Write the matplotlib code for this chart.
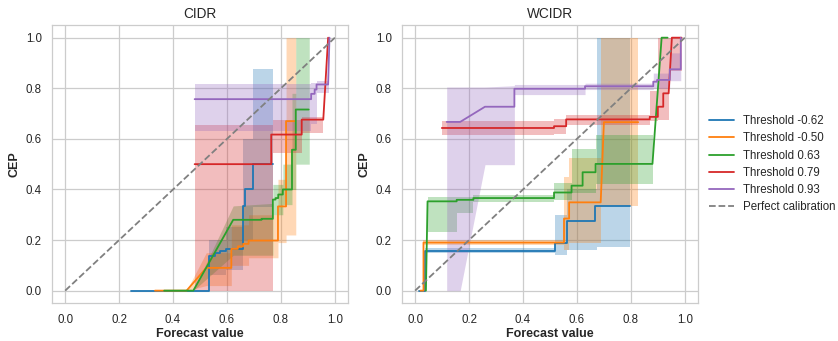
import matplotlib
matplotlib.use("Agg")
import matplotlib.pyplot as plt
import seaborn as sns

sns.set_theme(style="whitegrid")
plt.rcParams['font.family'] = ['Liberation Sans', 'DejaVu Sans']

labels = ["Threshold -0.62", "Threshold -0.50", "Threshold 0.63", "Threshold 0.79", "Threshold 0.93"]
colors = ["#1f77b4", "#ff7f0e", "#2ca02c", "#d62728", "#9467bd"]
titles = ["CIDR", "WCIDR"]
ticks = [0.0, 0.2, 0.4, 0.6, 0.8, 1.0]

# ---------------- CIDR lines ----------------
cidr_blue_x = [0.243, 0.532, 0.532, 0.555, 0.555, 0.573, 0.573, 0.598, 0.598, 0.660, 0.660, 0.667, 0.667, 0.696, 0.696, 0.772]
cidr_blue_y = [0, 0, 0.137, 0.137, 0.148, 0.148, 0.158, 0.158, 0.165, 0.165, 0.333, 0.333, 0.400, 0.400, 0.500, 0.500]
cidr_orange_x = [0.333, 0.450, 0.523, 0.616, 0.616, 0.640, 0.640, 0.660, 0.660, 0.680, 0.680, 0.789, 0.789, 0.819, 0.819, 0.852]
cidr_orange_y = [0, 0, 0.090, 0.090, 0.165, 0.165, 0.175, 0.175, 0.185, 0.185, 0.198, 0.198, 0.333, 0.333, 0.670, 0.670]
cidr_green_x = [0.367, 0.475, 0.623, 0.728, 0.728, 0.770, 0.770, 0.780, 0.780, 0.790, 0.790, 0.807, 0.807, 0.841, 0.841, 0.855, 0.855, 0.903]
cidr_green_y = [0, 0, 0.280, 0.280, 0.284, 0.284, 0.360, 0.360, 0.366, 0.366, 0.380, 0.380, 0.400, 0.400, 0.557, 0.557, 0.716, 0.716]
cidr_red_x = [0.480, 0.764, 0.764, 0.877, 0.877, 0.957, 0.975]
cidr_red_y = [0.500, 0.500, 0.617, 0.617, 0.676, 0.676, 1.0]
cidr_purple_x = [0.480, 0.912, 0.912, 0.925, 0.925, 0.932, 0.932, 0.975, 0.980]
cidr_purple_y = [0.757, 0.757, 0.778, 0.778, 0.795, 0.795, 0.815, 0.815, 1.0]

# ---------------- CIDR bands ----------------
cidr_blue_bx = [0.532, 0.598, 0.598, 0.660, 0.660, 0.696, 0.696, 0.772]
cidr_blue_lo = [0.06, 0.06, 0.08, 0.08, 0.20, 0.20, 0.33, 0.33]
cidr_blue_hi = [0.20, 0.20, 0.25, 0.25, 0.60, 0.60, 0.877, 0.877]
cidr_orange_bx = [0.450, 0.523, 0.616, 0.616, 0.680, 0.680, 0.789, 0.789, 0.819, 0.819, 0.855]
cidr_orange_lo = [0, 0.02, 0.02, 0.10, 0.10, 0.13, 0.13, 0.19, 0.19, 0.22, 0.22]
cidr_orange_hi = [0, 0.15, 0.15, 0.26, 0.26, 0.30, 0.30, 0.44, 0.44, 1.0, 1.0]
cidr_green_bx = [0.475, 0.623, 0.770, 0.770, 0.807, 0.807, 0.841, 0.841, 0.855, 0.855, 0.905]
cidr_green_lo = [0, 0.14, 0.14, 0.30, 0.30, 0.34, 0.34, 0.40, 0.40, 0.50, 0.50]
cidr_green_hi = [0, 0.335, 0.345, 0.42, 0.42, 0.50, 0.50, 0.78, 0.78, 1.0, 1.0]
cidr_red_bx = [0.480, 0.770, 0.770, 0.877, 0.877, 0.957]
cidr_red_lo = [0, 0, 0.545, 0.545, 0.625, 0.625]
cidr_red_hi = [0.655, 0.655, 0.676, 0.676, 0.685, 0.685]
cidr_purple_bx = [0.480, 0.912, 0.912, 0.932, 0.932, 0.980]
cidr_purple_lo = [0.63, 0.63, 0.66, 0.66, 0.78, 0.78]
cidr_purple_hi = [0.815, 0.815, 0.82, 0.82, 0.83, 0.83]

# ---------------- WCIDR lines ----------------
wcidr_blue_x = [0.015, 0.035, 0.035, 0.519, 0.519, 0.562, 0.562, 0.667, 0.667, 0.796]
wcidr_blue_y = [0, 0, 0.158, 0.158, 0.188, 0.188, 0.277, 0.277, 0.333, 0.333]
wcidr_orange_x = [0.020, 0.031, 0.031, 0.552, 0.552, 0.571, 0.571, 0.688, 0.700, 0.827]
wcidr_orange_y = [0, 0, 0.190, 0.190, 0.285, 0.285, 0.349, 0.349, 0.666, 0.666]
wcidr_green_x = [0.040, 0.046, 0.154, 0.154, 0.216, 0.216, 0.515, 0.515, 0.580, 0.580, 0.621, 0.621, 0.669, 0.669, 0.880, 0.914, 0.936]
wcidr_green_y = [0, 0.353, 0.353, 0.359, 0.359, 0.366, 0.366, 0.388, 0.388, 0.415, 0.415, 0.468, 0.468, 0.501, 0.501, 1.0, 1.0]
wcidr_red_x = [0.099, 0.515, 0.515, 0.560, 0.560, 0.870, 0.870, 0.900, 0.900, 0.920, 0.920, 0.940, 0.952, 0.988]
wcidr_red_y = [0.643, 0.643, 0.650, 0.650, 0.677, 0.677, 0.687, 0.687, 0.727, 0.727, 0.780, 0.780, 1.0, 1.0]
wcidr_purple_x = [0.117, 0.167, 0.259, 0.368, 0.368, 0.630, 0.630, 0.883, 0.883, 0.897, 0.897, 0.944, 0.944, 0.985, 0.985]
wcidr_purple_y = [0.667, 0.667, 0.727, 0.727, 0.798, 0.798, 0.808, 0.808, 0.826, 0.826, 0.833, 0.833, 0.875, 0.875, 1.0]

# ---------------- WCIDR bands ----------------
wcidr_blue_bx = [0.035, 0.519, 0.519, 0.562, 0.562, 0.673, 0.673, 0.796]
wcidr_blue_lo = [0.148, 0.148, 0.14, 0.14, 0.16, 0.16, 0.174, 0.174]
wcidr_blue_hi = [0.168, 0.168, 0.30, 0.30, 0.40, 0.40, 1.0, 1.0]
wcidr_orange_bx = [0.031, 0.552, 0.552, 0.571, 0.571, 0.690, 0.690, 0.827]
wcidr_orange_lo = [0.18, 0.18, 0.16, 0.16, 0.19, 0.19, 0.333, 0.333]
wcidr_orange_hi = [0.20, 0.20, 0.45, 0.45, 0.525, 0.525, 1.0, 1.0]
wcidr_green_bx = [0.046, 0.154, 0.154, 0.216, 0.216, 0.515, 0.515, 0.580, 0.580, 0.669, 0.669, 0.883]
wcidr_green_lo = [0.232, 0.232, 0.306, 0.306, 0.352, 0.352, 0.36, 0.36, 0.385, 0.385, 0.423, 0.423]
wcidr_green_hi = [0.372, 0.372, 0.372, 0.372, 0.378, 0.378, 0.425, 0.425, 0.56, 0.56, 0.617, 0.617]
wcidr_red_bx = [0.099, 0.515, 0.515, 0.560, 0.560, 0.870, 0.870, 0.900, 0.900, 0.940, 0.940, 0.988]
wcidr_red_lo = [0.615, 0.615, 0.62, 0.62, 0.655, 0.655, 0.67, 0.67, 0.675, 0.675, 0.87, 0.87]
wcidr_red_hi = [0.67, 0.67, 0.68, 0.68, 0.695, 0.695, 0.79, 0.79, 1.0, 1.0, 1.0, 1.0]
wcidr_purple_bx = [0.117, 0.167, 0.259, 0.368, 0.368, 0.630, 0.630, 0.883, 0.883, 0.944, 0.944, 0.985]
wcidr_purple_lo = [0, 0, 0.498, 0.498, 0.775, 0.775, 0.795, 0.795, 0.80, 0.80, 0.83, 0.83]
wcidr_purple_hi = [0.805, 0.805, 0.805, 0.81, 0.815, 0.815, 0.82, 0.82, 0.86, 0.86, 0.94, 0.94]

panels = [
    dict(lines=[(cidr_blue_x, cidr_blue_y), (cidr_orange_x, cidr_orange_y), (cidr_green_x, cidr_green_y),
                (cidr_red_x, cidr_red_y), (cidr_purple_x, cidr_purple_y)],
         bands=[(cidr_blue_bx, cidr_blue_lo, cidr_blue_hi), (cidr_orange_bx, cidr_orange_lo, cidr_orange_hi),
                (cidr_green_bx, cidr_green_lo, cidr_green_hi), (cidr_red_bx, cidr_red_lo, cidr_red_hi),
                (cidr_purple_bx, cidr_purple_lo, cidr_purple_hi)]),
    dict(lines=[(wcidr_blue_x, wcidr_blue_y), (wcidr_orange_x, wcidr_orange_y), (wcidr_green_x, wcidr_green_y),
                (wcidr_red_x, wcidr_red_y), (wcidr_purple_x, wcidr_purple_y)],
         bands=[(wcidr_blue_bx, wcidr_blue_lo, wcidr_blue_hi), (wcidr_orange_bx, wcidr_orange_lo, wcidr_orange_hi),
                (wcidr_green_bx, wcidr_green_lo, wcidr_green_hi), (wcidr_red_bx, wcidr_red_lo, wcidr_red_hi),
                (wcidr_purple_bx, wcidr_purple_lo, wcidr_purple_hi)]),
]

fig = plt.figure(figsize=(8.38, 3.41), dpi=100)
ax_pos = [[0.0617, 0.1106, 0.354, 0.816], [0.4793, 0.1106, 0.354, 0.816]]

for i, p in enumerate(panels):
    ax = fig.add_axes(ax_pos[i])
    for (x, y), (bx, lo, hi), c, lab in zip(p["lines"], p["bands"], colors, labels):
        ax.plot(x, y, color=c, lw=1.3, label=lab)
        ax.fill_between(bx, lo, hi, color=c, alpha=0.3, lw=0)
    ax.plot([0, 1], [0, 1], ls="--", color="gray", lw=1.3, label="Perfect calibration")
    ax.set_xlim(-0.05, 1.05)
    ax.set_ylim(-0.05, 1.05)
    ax.set_xticks(ticks)
    ax.set_yticks(ticks)
    ax.tick_params(axis="y", labelsize=8.3, pad=1.0, colors="0.15")
    ax.tick_params(axis="x", labelsize=8.3, pad=2.0, colors="0.15")
    ax.set_title(titles[i], fontsize=9.8, pad=5, color="0.15")
    ax.set_xlabel("Forecast value", fontsize=9.0, fontweight="bold", labelpad=0.8)
    ax.set_ylabel("CEP", fontsize=9.0, fontweight="bold", labelpad=4)
    ax.grid(True, color="0.8", lw=0.9)
    for s in ax.spines.values():
        s.set_color("0.8")
        s.set_linewidth(0.9)
    if i == 1:
        ax.legend(loc="center left", bbox_to_anchor=(1.0, 0.5), frameon=False,
                  fontsize=8.3, handlelength=2.2, labelspacing=0.45, borderaxespad=0.5,
                  handletextpad=0.8)

fig.savefig("out.png", dpi=100)
